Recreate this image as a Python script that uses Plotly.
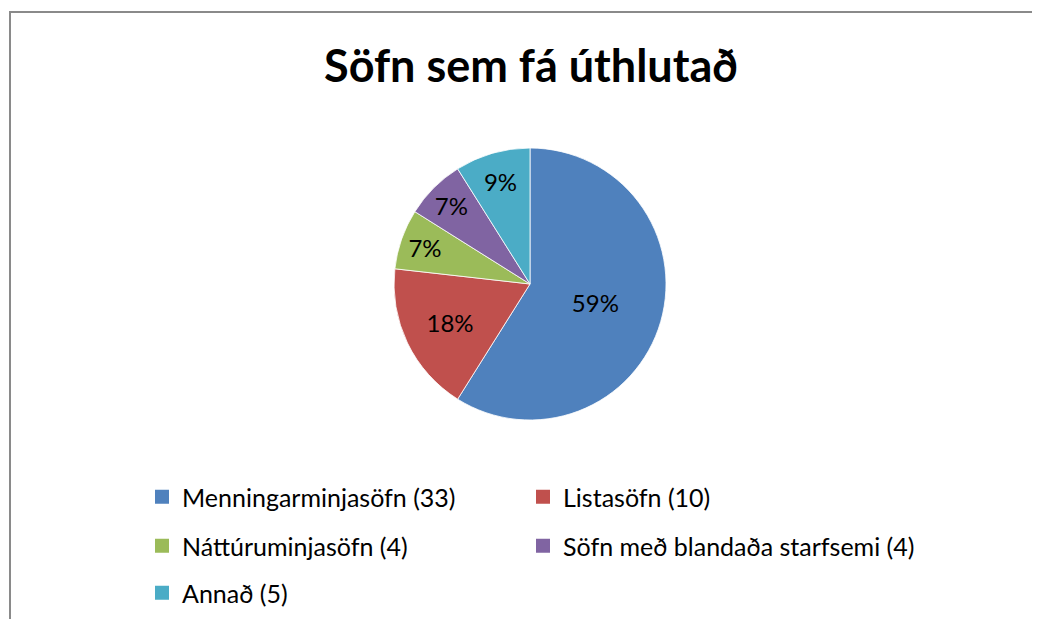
import plotly.graph_objects as go

categories = ["Menningarminjasöfn", "Listasöfn", "Náttúruminjasöfn", "Söfn með blandaða starfsemi", "Annað"]
counts = [33, 10, 4, 4, 5]
colors = ["#4F81BD", "#C0504D", "#9BBB59", "#8064A2", "#4BACC6"]
title_text = "Söfn sem fá úthlutað"

W, H = 1040, 619
OFF = 8  # page body margin offset
FONT = "Lato, 'Open Sans', sans-serif"

def px_x(x):
    return (x - OFF) / W

def px_y(y):
    return 1 - (y - OFF) / H

# legend entry layout (pixel positions of each entry: left edge, row centre)
legend_slots = [(142, 497), (523, 497), (142, 546), (523, 546), (142, 593)]

fig = go.Figure()

fig.add_trace(go.Pie(
    labels=categories,
    values=counts,
    sort=False,
    direction="clockwise",
    rotation=0,
    marker=dict(colors=colors, line=dict(color="white", width=0.8)),
    texttemplate="%{percent:.0%}",
    textposition="inside",
    insidetextorientation="horizontal",
    textfont=dict(family=FONT, size=24, color="black"),
    domain=dict(x=[px_x(394), px_x(666)], y=[px_y(420), px_y(148)]),
    showlegend=False,
    hoverinfo="label+value+percent",
))

legend_layouts = {}
for i, (cat, n, col) in enumerate(zip(categories, counts, colors)):
    key = "legend" if i == 0 else f"legend{i + 1}"
    fig.add_trace(go.Scatter(
        x=[None], y=[None], mode="markers",
        marker=dict(symbol="square", size=14, color=col),
        name=f"{cat} ({n})",
        legend=key,
        showlegend=True,
    ))
    lx, ly = legend_slots[i]
    legend_layouts[key] = dict(
        orientation="v",
        font=dict(family=FONT, size=25, color="black"),
        bgcolor="rgba(0,0,0,0)",
        xanchor="left",
        yanchor="middle",
        x=px_x(lx),
        y=px_y(ly),
        itemclick=False,
        itemdoubleclick=False,
    )

fig.update_layout(
    width=W, height=H,
    margin=dict(l=0, r=0, t=0, b=0),
    paper_bgcolor="white",
    plot_bgcolor="white",
    title=dict(
        text=f"<b>{title_text}</b>",
        x=px_x(531), xanchor="center",
        y=px_y(66), yanchor="middle", yref="container",
        font=dict(family=FONT, size=45, color="black"),
    ),
    xaxis=dict(visible=False),
    yaxis=dict(visible=False),
    shapes=[dict(
        type="rect", xref="paper", yref="paper",
        x0=px_x(10), x1=1.2, y0=px_y(12), y1=-0.2,
        line=dict(color="#8a8a8a", width=2),
        fillcolor="rgba(0,0,0,0)",
        layer="above",
    )],
    **legend_layouts,
)

fig.write_html("out.html")
